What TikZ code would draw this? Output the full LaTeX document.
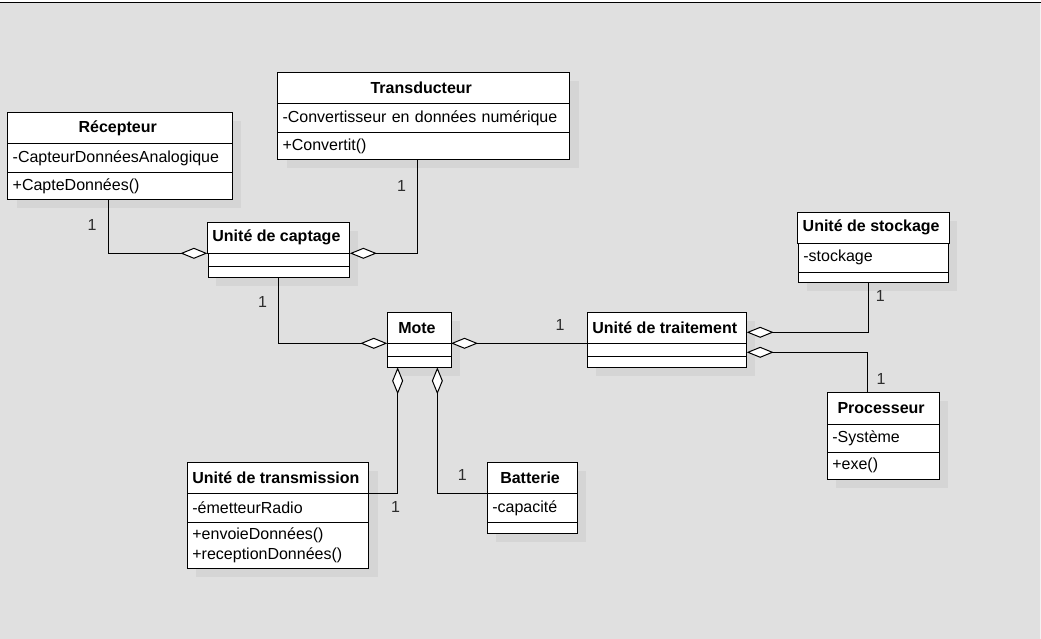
\documentclass[tikz,border=0pt]{standalone}
\usepackage{fontspec}
\setmainfont{Liberation Sans}
\usepackage{tikz}
\usetikzlibrary{matrix,calc,arrows.meta,positioning}
\pgfdeclarelayer{background}
\pgfsetlayers{background,main}
\definecolor{canvas}{RGB}{224,224,224}
\definecolor{shadowgray}{RGB}{213,213,213}
\definecolor{multcol}{RGB}{45,45,45}
\tikzset{
    umlclass/.style n args={5}{
        matrix of nodes,
        anchor=north west,
        inner sep=0pt, outer sep=0pt,
        row sep=-1pt,
        nodes in empty cells,
        nodes={draw, fill=white, line width=1pt, outer sep=0pt,
            inner xsep=5pt, inner ysep=0pt, anchor=center,
            text width=#2, align=left},
        row 1/.style={nodes={minimum height=#3, text width={},
            minimum width=#1, align=center,
            font={\fontsize{16pt}{19.2}\selectfont\bfseries}}},
        row 2/.style={nodes={minimum height=#4}},
        row 3/.style={nodes={minimum height=#5}}
    },
    aggr/.style={draw, line width=1pt,
        -{Diamond[fill=white, length=27pt, width=11pt]}},
    mult/.style={inner sep=0pt, text=multcol},
    font={\fontsize{16pt}{19.2}\selectfont},
}

\begin{document}
\begin{tikzpicture}[x=1pt, y=-1pt]
    \useasboundingbox (0,0) rectangle (1041,639);

    % classes
    \matrix (rec) [umlclass={224.6pt}{214.6pt}{31pt}{29pt}{27.7pt}] at (7.2,111.8) {
        Récepteur \\
        -CapteurDonnéesAnalogique \\
        +CapteDonnées() \\
    };
    \matrix (tra) [umlclass={292pt}{282pt}{31pt}{29pt}{27.7pt}] at (277,71.8) {
        Transducteur \\
        -Convertisseur en données numérique \\
        +Convertit() \\
    };
    \matrix (cap) [umlclass={141.2pt}{131.2pt}{31pt}{13.4pt}{10.6pt}] at (206.9,221.8) {
        Unité de captage \\
        \\
        \\
    };
    \matrix (mote) [umlclass={63.7pt}{53.7pt}{31pt}{13.4pt}{10.6pt}] at (386.8,311.8) {
        Mote \\
        \\
        \\
    };
    \matrix (trt) [umlclass={158.4pt}{148.4pt}{31pt}{13.4pt}{10.6pt}] at (586.8,311.8) {
        Unité de traitement \\
        \\
        \\
    };
    \matrix (sto) [umlclass={150pt}{140pt}{31pt}{29pt}{10.4pt}] at (797.2,211.8) {
        Unité de stockage \\
        -stockage \\
        \\
    };
    \matrix (pro) [umlclass={112pt}{102pt}{31.7pt}{28.3pt}{27pt}] at (826.8,391.8) {
        Processeur \\
        -Système \\
        +exe() \\
    };
    \matrix (tx) [umlclass={181.4pt}{171.4pt}{31pt}{29pt}{46pt}] at (186.8,461.8) {
        Unité de transmission \\
        -émetteurRadio \\
        |[font={\fontsize{16pt}{19.3}\selectfont}]| +envoieDonnées()\newline +receptionDonnées() \\
    };
    \matrix (bat) [umlclass={90pt}{80pt}{31pt}{29pt}{11pt}] at (486.8,461.8) {
        Batterie \\
        -capacité \\
        \\
    };

    % aggregations
    \draw[aggr] ([xshift=-12pt]rec-3-1.south) |- node[mult, pos=0.23, left=11pt] (m1) {1} (cap-1-1.south west);
    \draw[aggr] ([xshift=-6pt]tra-3-1.south) |- node[mult, pos=0.14, left=11pt] (m2) {1} (cap-1-1.south east);
    \draw[aggr] (cap-3-1.south) |- node[mult, pos=0.19, left=11pt] (m3) {1} (mote-1-1.south west);
    \draw[aggr] (trt-1-1.south west) -- node[mult, pos=0.2, above=12pt] (m4) {1} (mote-1-1.south east);
    \draw[aggr] (tx-1-1.south east) -| node[mult, pos=0.5, below=8pt, xshift=-2pt] (m5) {1} ([xshift=-21.5pt]mote-3-1.south);
    \draw[aggr] (bat-1-1.south west) -| node[mult, pos=0.25, above=12pt] (m6) {1} ([xshift=18.2pt]mote-3-1.south);
    \draw[aggr] ([xshift=-5pt]sto-3-1.south) |- node[mult, pos=0.13, right=7pt] (m7) {1} ([yshift=11pt]trt-1-1.south east);
    \draw[aggr] ([xshift=-15.6pt]pro-1-1.north) |- node[mult, pos=0.17, right=8.5pt] (m8) {1} ([yshift=-9pt]trt-1-1.south east);

    \begin{pgfonlayer}{background}
        \fill[white] (0,0) rectangle (1041,639);
        \fill[canvas] (0,3) rectangle (1040,639);
        \fill[canvas!40] (1040,3) rectangle (1041,639);
        \draw[line width=1.2pt] (0,2.2) -- (1041,2.2);
        \foreach \c in {rec,tra,cap,mote,trt,sto,pro,tx,bat}
            \fill[shadowgray] ([shift={(9,8.5)}]\c-1-1.north west) rectangle ([shift={(9,8.5)}]\c-3-1.south east);
    \end{pgfonlayer}
\end{tikzpicture}
\end{document}
